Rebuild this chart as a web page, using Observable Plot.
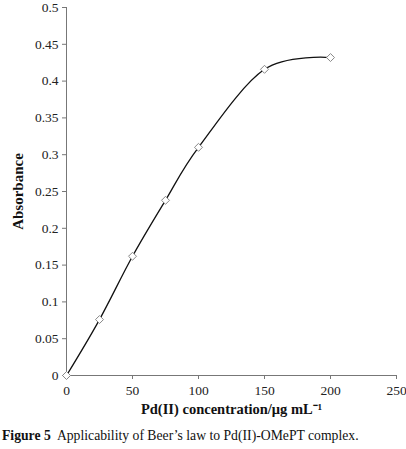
<!DOCTYPE html>
<html>
<head>
<meta charset="utf-8">
<script src="https://cdn.jsdelivr.net/npm/d3@7"></script>
<script src="https://cdn.jsdelivr.net/npm/@observablehq/plot@0.6"></script>
<style>
  body { margin: 0; background: #fff; }
  #chart svg { display: block; }
  .caption { font-family: "Liberation Serif", "DejaVu Serif", serif; font-size: 13.7px; color: #111; margin: 3px 0 0 2px; white-space: nowrap; }
</style>
</head>
<body>
<div id="chart"></div>
<div class="caption"><b>Figure 5</b>&nbsp; Applicability of Beer’s law to Pd(II)-OMePT complex.</div>
<script>
const concentration = [0, 25, 50, 75, 100, 150, 200];
const absorbance = [0, 0.076, 0.162, 0.238, 0.31, 0.416, 0.432];
const xTicks = [0, 50, 100, 150, 200, 250];
const yTicks = [0, 0.05, 0.1, 0.15, 0.2, 0.25, 0.3, 0.35, 0.4, 0.45, 0.5];

const data = concentration.map((c, i) => ({c, a: absorbance[i]}));

const chart = Plot.plot({
  width: 406,
  height: 425,
  marginLeft: 66,
  marginRight: 10,
  marginTop: 7,
  marginBottom: 50,
  style: {fontFamily: "Liberation Serif, serif", fontSize: "13.5px", color: "#222", background: "#fff", overflow: "visible"},
  x: {domain: [0, 250]},
  y: {domain: [0, 0.5]},
  marks: [
    Plot.ruleX([0], {stroke: "#777"}),
    Plot.ruleY([0], {stroke: "#777"}),
    Plot.axisX({ticks: xTicks, tickSize: 4, tickPadding: 6, stroke: "#777", tickFormat: d => String(d), label: null}),
    Plot.axisY({ticks: yTicks, tickSize: 4, tickPadding: 4, stroke: "#777", tickFormat: d => String(d), label: null}),
    Plot.text(["Pd(II) concentration/μg mL⁻¹"], {frameAnchor: "bottom", dy: 38, fontWeight: "bold", fontSize: 14.5, fill: "#111"}),
    Plot.text(["Absorbance"], {frameAnchor: "left", textAnchor: "middle", dx: -48, rotate: -90, fontWeight: "bold", fontSize: 15, fill: "#111"}),
    Plot.line(data, {x: "c", y: "a", curve: "cardinal", stroke: "#111", strokeWidth: 1.3}),
    Plot.dot(data, {x: "c", y: "a", symbol: "diamond2", r: 3.6, stroke: "#888", fill: "white", strokeWidth: 1})
  ]
});
document.getElementById("chart").appendChild(chart);
</script>
</body>
</html>
